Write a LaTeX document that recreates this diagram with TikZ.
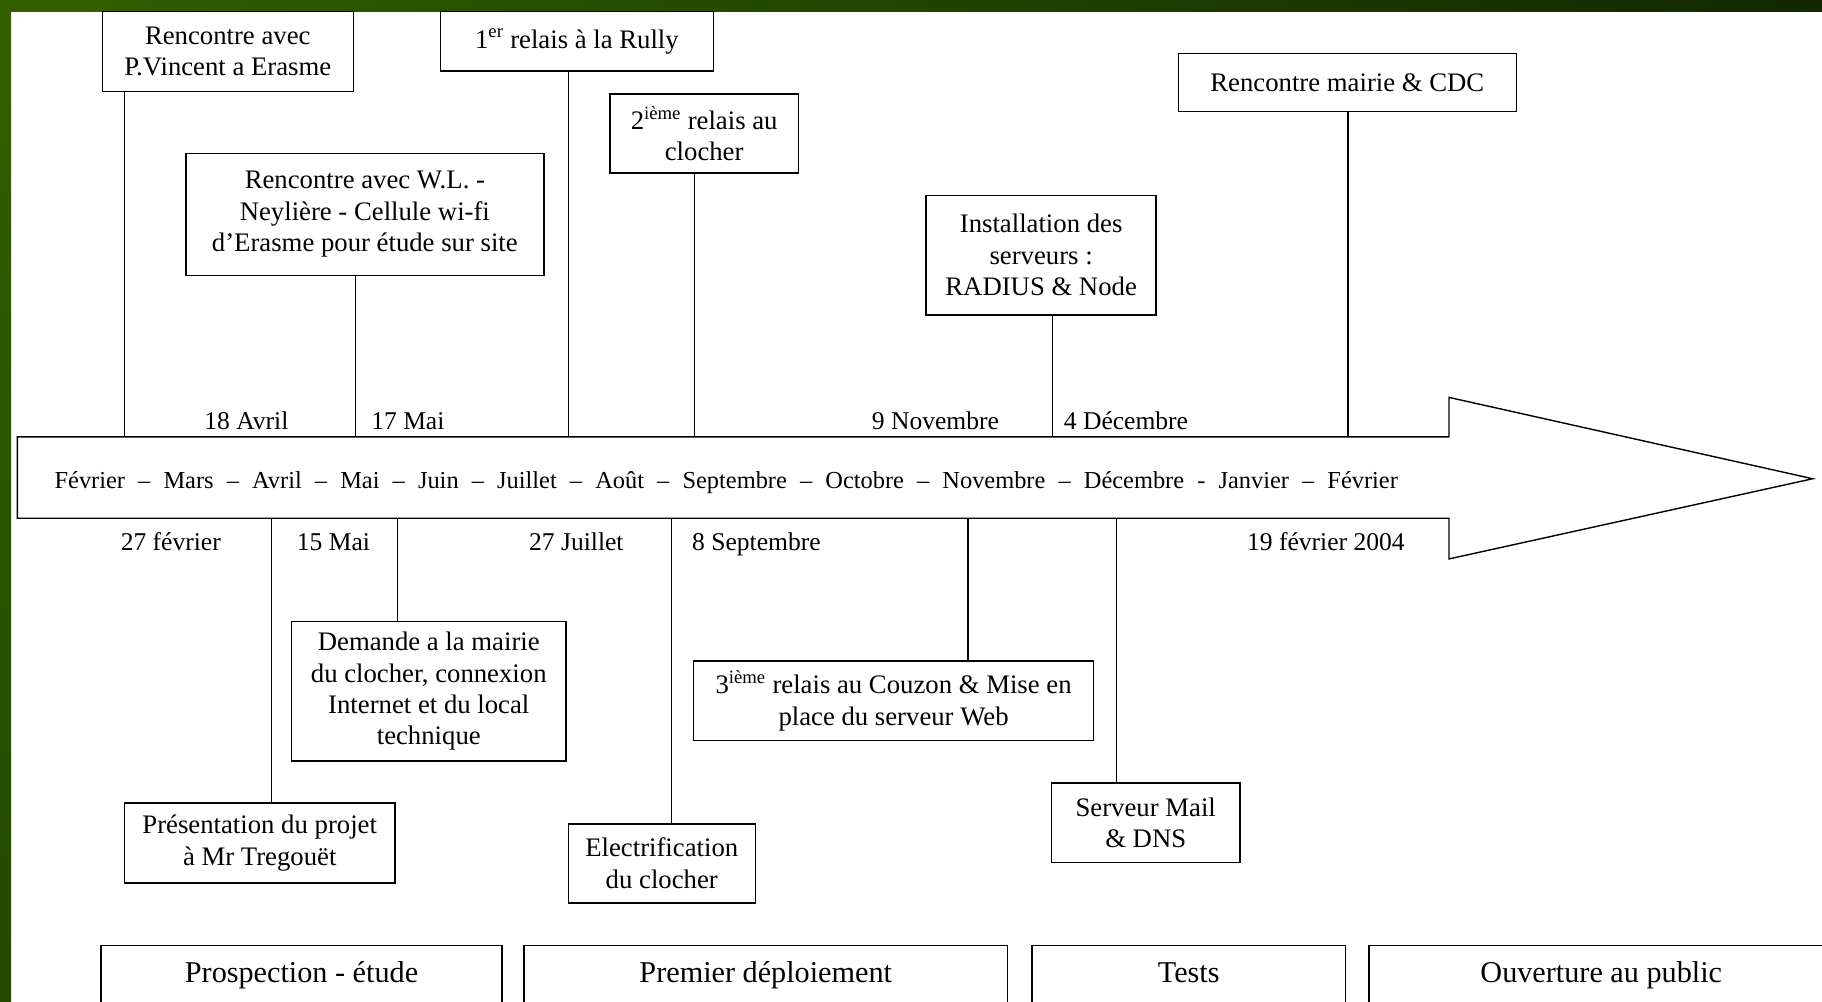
\documentclass[tikz,border=0pt]{standalone}
\usepackage{fontspec}
\setmainfont{Liberation Serif}
\definecolor{grnA}{RGB}{50,96,0}
\definecolor{grnB}{RGB}{36,72,0}
\definecolor{grnC}{RGB}{17,40,0}
\begin{document}
\begin{tikzpicture}[x=1pt,y=-1pt,
    evt/.style={draw,line width=1.2pt,fill=white,align=center,inner sep=0pt,font=\fontsize{23}{27}\selectfont},
    date/.style={anchor=base,inner sep=0pt,font=\fontsize{22}{26}\selectfont},
    phase/.style={draw,line width=1.2pt,inner sep=0pt,text height=18pt,text depth=6pt,minimum height=52pt,anchor=north,font=\fontsize{26}{30}\selectfont},
    link/.style={line width=1pt}]
  \clip (0,0) rectangle (1568,862);
  \fill[white] (0,0) rectangle (1568,862);
  \fill[left color=grnA,right color=grnC] (0,0) rectangle (1568,9.5);
  \fill[top color=grnA,bottom color=grnB] (0,0) rectangle (9.5,862);

  \draw[line width=1.2pt,fill=white] (15,376) -- (1247,376) -- (1247,342) -- (1560,412)
    -- (1247,481) -- (1247,446) -- (15,446) -- cycle;
  \node[anchor=base,inner sep=0pt,font=\fontsize{21}{25}\selectfont] (mois) at (625,420)
    {\makebox[1156pt][s]{Février – Mars – Avril – Mai – Juin – Juillet – Août – Septembre – Octobre – Novembre – Décembre - Janvier – Février}};

  \node[evt,minimum width=216pt,minimum height=69pt] (vincent) at (196,44.5) {Rencontre avec\\P.Vincent a Erasme};
  \node[evt,minimum width=308pt,minimum height=105pt] (wl) at (314,184.5) {Rencontre avec W.L. -\\Neylière - Cellule wi-fi\\d’Erasme pour étude sur site};
  \node[evt,minimum width=235pt,minimum height=51pt] (rully) at (496.5,35.5) {1\textsuperscript{er} relais à la Rully};
  \node[evt,minimum width=162pt,minimum height=68pt] (clocher) at (606,115) {2\textsuperscript{ième} relais au\\clocher};
  \node[evt,minimum width=198pt,minimum height=103pt] (radius) at (896,219.5) {Installation des\\serveurs :\\RADIUS \& Node};
  \node[evt,minimum width=291pt,minimum height=50pt] (mairie) at (1159.5,71) {Rencontre mairie \& CDC};

  \node[evt,minimum width=233pt,minimum height=69pt] (tregouet) at (223.5,725.5) {Présentation du projet\\à Mr Tregouët};
  \node[evt,minimum width=236pt,minimum height=120pt] (demande) at (369,595) {Demande a la mairie\\du clocher, connexion\\Internet et du local\\technique};
  \node[evt,minimum width=161pt,minimum height=68pt] (electrif) at (569.5,743) {Electrification\\du clocher};
  \node[evt,minimum width=344pt,minimum height=68pt] (couzon) at (769,603) {3\textsuperscript{ième} relais au Couzon \& Mise en\\place du serveur Web};
  \node[evt,minimum width=162pt,minimum height=68pt] (mail) at (986,708) {Serveur Mail\\\& DNS};

  \foreach \n/\x in {vincent/107,wl/306,rully/489,clocher/598,radius/906,mairie/1160}{
    \coordinate (f\n) at (\x,376);
    \draw[link] (f\n |- \n.south) -- (f\n);
  }
  \foreach \n/\x in {tregouet/234,demande/342,electrif/578,couzon/833,mail/961}{
    \coordinate (f\n) at (\x,446);
    \draw[link] (f\n) -- (f\n |- \n.north);
  }

  \node[date] (avril) at (212,370) {18 Avril};
  \node[date] (mai) at (351,370) {17 Mai};
  \node[date] (nov) at (805,370) {9 Novembre};
  \node[date] (dec) at (969,370) {4 Décembre};
  \node[date] (fev) at (147,474) {27 février};
  \node[date] (mai15) at (287,474) {15 Mai};
  \node[date] (juil) at (496,474) {27 Juillet};
  \node[date] (sept) at (651,474) {8 Septembre};
  \node[date] (fev04) at (1141,474) {19 février 2004};

  \node[phase,minimum width=345pt] (prospection) at (259.5,813) {Prospection - étude};
  \node[phase,minimum width=416pt] (deploiement) at (659,813) {Premier déploiement};
  \node[phase,minimum width=270pt] (tests) at (1023,813) {Tests};
  \node[phase,minimum width=400pt] (ouverture) at (1378,813) {Ouverture au public};
\end{tikzpicture}
\end{document}
